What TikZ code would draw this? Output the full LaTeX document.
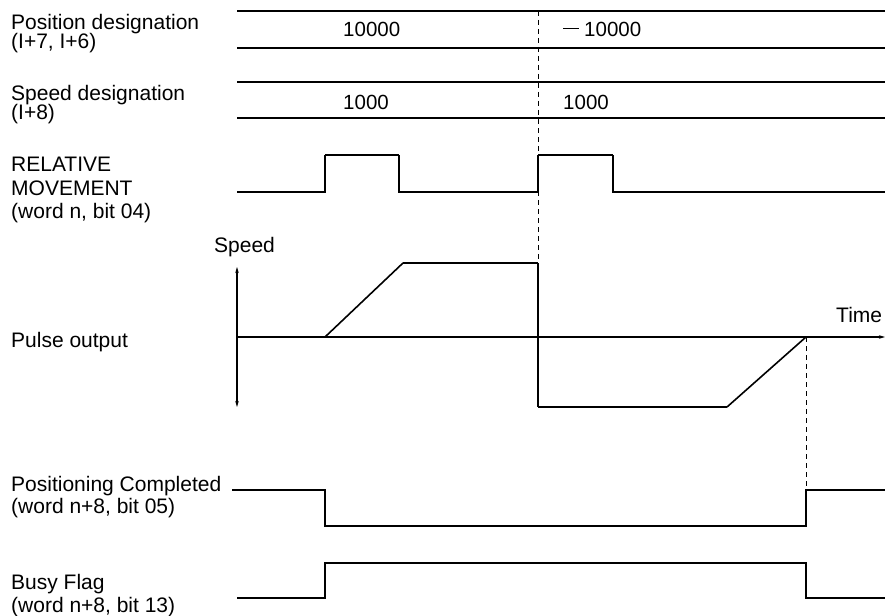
\documentclass[tikz,border=0pt]{standalone}
\usepackage{fontspec}
\setmainfont{Liberation Sans}
\usetikzlibrary{arrows.meta}
\begin{document}
\begin{tikzpicture}[x=1pt,y=-1pt,
  lbl/.style={anchor=base west, inner sep=0pt, font=\fontsize{21}{24}\selectfont},
  num/.style={anchor=base west, inner sep=0pt, font=\fontsize{20.5}{24}\selectfont},
  sig/.style={line width=1.2pt, line join=miter},
  hisig/.style={line width=2.4pt},
  guide/.style={line width=1pt, dash pattern=on 5pt off 4pt},
  tip/.style={-{Stealth[length=6pt,width=3.5pt]}},
  both/.style={{Stealth[length=6pt,width=3.5pt]}-{Stealth[length=6pt,width=3.5pt]}}]
\clip (0,0) rectangle (885,615);
\fill[white] (0,0) rectangle (885,615);

% left labels
\node[lbl] (pd1) at (11,30) {Position designation};
\node[lbl] (pd2) at (11,49) {(I+7, I+6)};
\node[lbl] (sd1) at (11,100) {Speed designation};
\node[lbl] (sd2) at (11,120) {(I+8)};
\node[lbl] (rm1) at (11,171) {RELATIVE};
\node[lbl] (rm2) at (11,195) {MOVEMENT};
\node[lbl] (rm3) at (11,218) {(word n, bit 04)};
\node[lbl] (po) at (11,347) {Pulse output};
\node[lbl] (pc1) at (11,491) {Positioning Completed};
\node[lbl] (pc2) at (11,513) {(word n+8, bit 05)};
\node[lbl] (bf1) at (11,589) {Busy Flag};
\node[lbl] (bf2) at (11,612) {(word n+8, bit 13)};
\node[lbl] (spd) at (214,252) {Speed};
\node[lbl] (tim) at (836,322) {Time};

% bus lines
\draw[sig] (237,11) -- (885,11);
\draw[sig] (237,48) -- (885,48);
\draw[sig] (237,82) -- (885,82);
\draw[sig] (237,118) -- (885,118);
\node[num] (v1) at (343,37) {10000};
\node[num] (v2) at (563,37) {\raisebox{8pt}{\rule{16pt}{1.3pt}}\hspace{5pt}10000};
\node[num] (v3) at (343,110) {1000};
\node[num] (v4) at (563,110) {1000};

% dashed guides
\draw[guide] (538,11) -- (538,263);
\draw[guide] (806,337) -- (806,490);

% RELATIVE MOVEMENT
\draw[sig] (237,192) -- (325,192) -- (325,155);
\draw[hisig] (325,155) -- (399,155);
\draw[sig] (399,155) -- (399,192) -- (538,192) -- (538,155);
\draw[hisig] (538,155) -- (613,155);
\draw[sig] (613,155) -- (613,192) -- (885,192);

% speed profile axes
\draw[sig,both] (237,267) -- (237,407);
\draw[sig,tip] (237,337) -- (885,337);
\coordinate (r1) at (325,337);
\coordinate (r2) at (403,263);
\coordinate (r3) at (538,263);
\coordinate (r4) at (538,407);
\coordinate (r5) at (727,407);
\coordinate (r6) at (806,337);
\draw[line width=1.6pt] (r1) -- (r2);
\draw[hisig] (r2) -- (r3);
\draw[sig] (r3) -- (r4);
\draw[hisig] (r4) -- (r5);
\draw[line width=1.6pt] (r5) -- (r6);

% Positioning Completed
\draw[sig] (232,490) -- (325,490) -- (325,526) -- (806,526) -- (806,490) -- (885,490);
% Busy Flag
\draw[sig] (237,598) -- (325,598) -- (325,563) -- (806,563) -- (806,598) -- (885,598);
\end{tikzpicture}
\end{document}
